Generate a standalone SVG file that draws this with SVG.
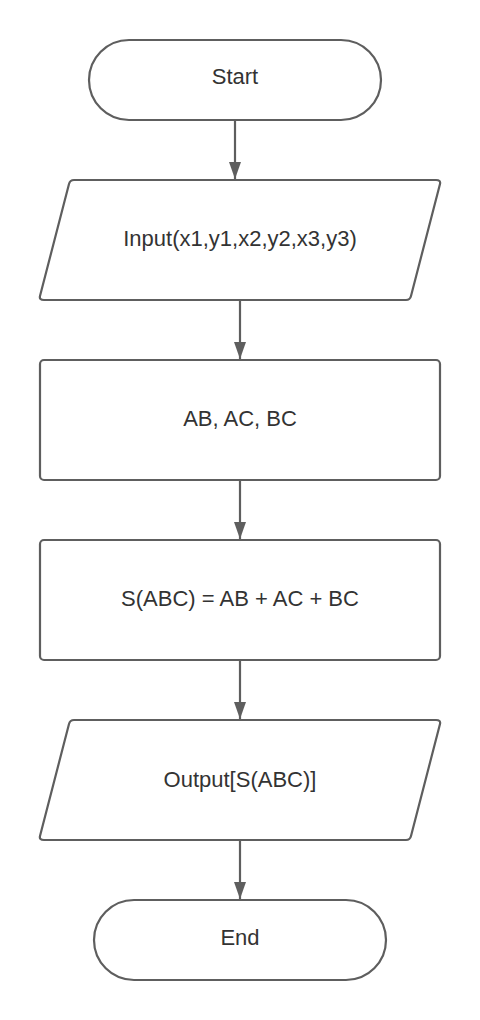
<svg xmlns="http://www.w3.org/2000/svg" width="480" height="1020" viewBox="0 0 480 1020">
<defs>
<style>
.shape{fill:#ffffff;stroke:#5e5e5e;stroke-width:2.2;stroke-linejoin:round}
.lbl{font-family:"Liberation Sans",Arial,sans-serif;font-size:22px;fill:#333333;text-anchor:middle}
.conn{stroke:#5e5e5e;stroke-width:2.2;fill:none}
</style>
<marker id="ah" viewBox="0 0 17 12" refX="17" refY="6" markerWidth="17" markerHeight="12" markerUnits="userSpaceOnUse" orient="auto">
<path d="M0,0 L17,6 L0,12 Z" fill="#5e5e5e"/>
</marker>
</defs>
<rect width="480" height="1020" fill="#ffffff"/>
<g id="connectors">
<line class="conn" x1="235" y1="121" x2="235" y2="179" marker-end="url(#ah)"/>
<line class="conn" x1="240" y1="301" x2="240" y2="359" marker-end="url(#ah)"/>
<line class="conn" x1="240" y1="481" x2="240" y2="539" marker-end="url(#ah)"/>
<line class="conn" x1="240" y1="661" x2="240" y2="719" marker-end="url(#ah)"/>
<line class="conn" x1="240" y1="841" x2="240" y2="899" marker-end="url(#ah)"/>
</g>
<g id="start">
<rect class="shape" x="89" y="40" width="292" height="80" rx="40" ry="40"/>
<text class="lbl" x="235" y="84">Start</text>
</g>
<g id="input">
<path class="shape" d="M74,180 L436,180 Q441,180 440,184 L411,296 Q410,300 406,300 L44,300 Q39,300 40,296 L69,184 Q70,180 74,180 Z"/>
<text class="lbl" x="240" y="246">Input(x1,y1,x2,y2,x3,y3)</text>
</g>
<g id="calc">
<rect class="shape" x="40" y="360" width="400" height="120" rx="4" ry="4"/>
<text class="lbl" x="240" y="426">AB, AC, BC</text>
</g>
<g id="sum">
<rect class="shape" x="40" y="540" width="400" height="120" rx="4" ry="4"/>
<text class="lbl" x="240" y="606">S(ABC) = AB + AC + BC</text>
</g>
<g id="output">
<path class="shape" d="M74,720 L436,720 Q441,720 440,724 L411,836 Q410,840 406,840 L44,840 Q39,840 40,836 L69,724 Q70,720 74,720 Z"/>
<text class="lbl" x="240" y="787">Output[S(ABC)]</text>
</g>
<g id="end">
<rect class="shape" x="94" y="900" width="292" height="80" rx="40" ry="40"/>
<text class="lbl" x="240" y="945">End</text>
</g>
</svg>
